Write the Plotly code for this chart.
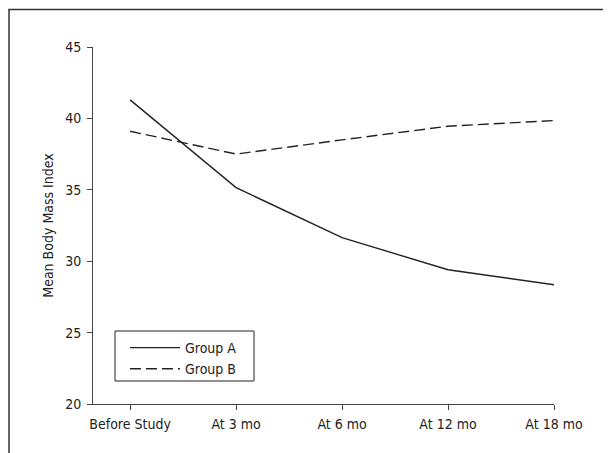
import plotly.graph_objects as go

categories = ["Before Study", "At 3 mo", "At 6 mo", "At 12 mo", "At 18 mo"]
group_a = [41.3, 35.15, 31.65, 29.4, 28.35]
group_b = [39.1, 37.5, 38.5, 39.45, 39.85]
y_ticks = [20, 25, 30, 35, 40, 45]

FONT = "DejaVu Sans Condensed, Liberation Sans Narrow, sans-serif"
INK = "#222222"

# figure size chosen so the page (with the 8px body margin) fits the window
FW, FH = 603, 445
# plot area in figure pixels
L, R, T, B = 85, 546, 39, 396
W, H = R - L, B - T


def px(x):
    return (x - L) / W


def py(y):
    return 1 - (y - T) / H


xs = list(range(len(categories)))

fig = go.Figure()
fig.add_trace(go.Scatter(x=xs, y=group_a, mode="lines", name="Group A",
                         line=dict(color=INK, width=1.4)))
fig.add_trace(go.Scatter(x=xs, y=group_b, mode="lines", name="Group B",
                         line=dict(color=INK, width=1.4, dash="11px,5px")))

fig.update_layout(
    width=FW, height=FH,
    margin=dict(l=L, r=FW - R, t=T, b=FH - B),
    paper_bgcolor="white", plot_bgcolor="white",
    font=dict(family=FONT, size=14, color=INK),
    xaxis=dict(
        range=[-0.35, 4.0],
        tickmode="array", tickvals=xs, ticktext=categories,
        showline=True, linecolor="#444444", linewidth=1,
        ticks="outside", ticklen=5, tickcolor="#444444",
        ticklabelstandoff=2,
        showgrid=False, zeroline=False,
        tickfont=dict(family=FONT, size=14, color=INK),
    ),
    yaxis=dict(
        range=[20, 45],
        tickmode="array", tickvals=y_ticks,
        showline=True, linecolor="#444444", linewidth=1,
        ticks="outside", ticklen=5, tickcolor="#444444",
        ticklabelstandoff=3,
        showgrid=False, zeroline=False,
        tickfont=dict(family=FONT, size=14, color=INK),
        title=dict(text="Mean Body Mass Index", standoff=8,
                   font=dict(family=FONT, size=14, color=INK)),
    ),
    legend=dict(
        x=px(117), y=py(324), xanchor="left", yanchor="top",
        borderwidth=0, bgcolor="rgba(0,0,0,0)",
        font=dict(family=FONT, size=14, color=INK),
        itemwidth=50, tracegroupgap=0,
    ),
    showlegend=True,
    shapes=[
        # legend box
        dict(type="rect", xref="paper", yref="paper",
             x0=px(107), x1=px(246), y0=py(323), y1=py(373),
             line=dict(color=INK, width=1)),
        # figure frame (right and bottom edges fall outside the view)
        dict(type="rect", xref="paper", yref="paper",
             x0=px(1), x1=px(680), y0=py(1.5), y1=py(520),
             line=dict(color="#333333", width=1.5)),
    ],
)

fig.write_html("out.html")
